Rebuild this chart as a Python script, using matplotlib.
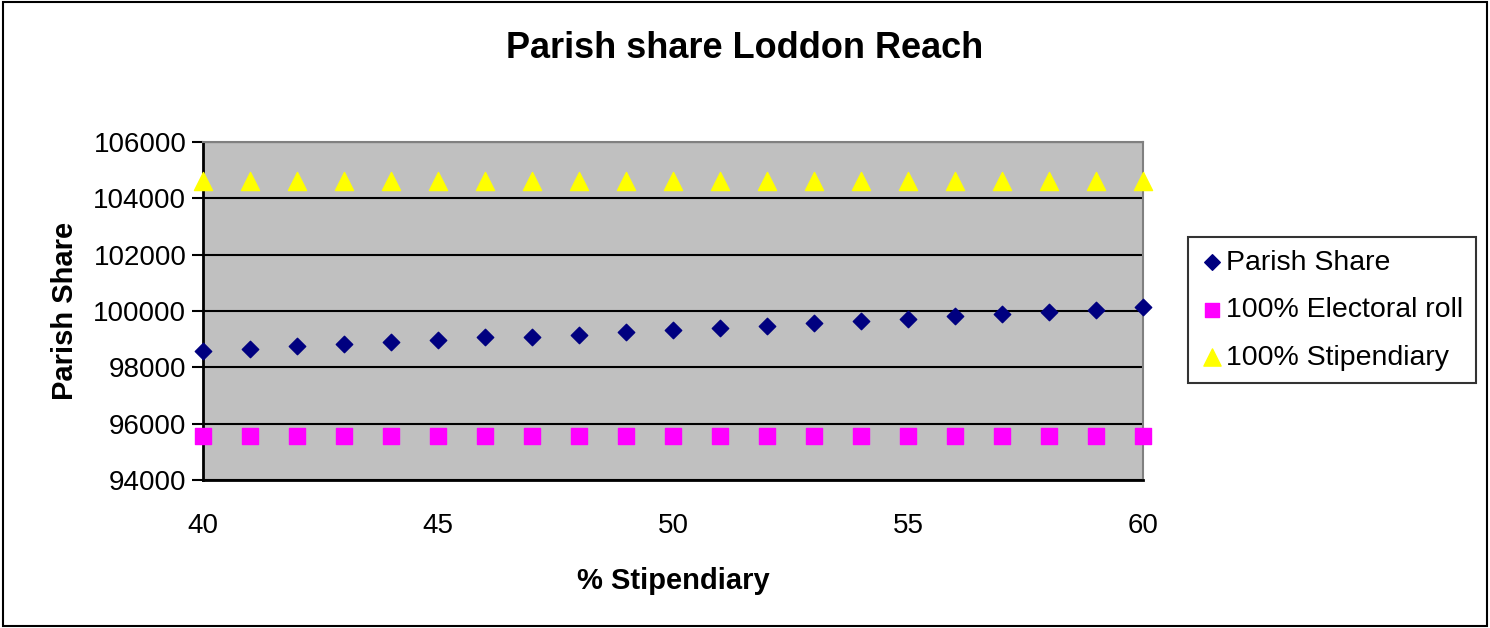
import matplotlib
matplotlib.use('Agg')
from matplotlib import pyplot as plt
from matplotlib.patches import Rectangle

plt.rcParams['font.family'] = ['Liberation Sans', 'DejaVu Sans']

stipendiary_pct = list(range(40, 61))
parish_share = [98580, 98650, 98745, 98840, 98910, 98980, 99075, 99080, 99160, 99245, 99315,
                99385, 99478, 99563, 99645, 99716, 99812, 99893, 99965, 100046, 100131]
electoral_roll = [95570] * 21
full_stipendiary = [104600] * 21

fig = plt.figure(figsize=(14.9, 6.28), dpi=100)
ax = fig.add_axes([203/1490, 1 - 480/628, 940/1490, 338/628])
ax.set_facecolor('#C0C0C0')

ax.scatter(stipendiary_pct, parish_share, marker='D', s=70, color='#000080', label='Parish Share', zorder=3, clip_on=False)
ax.scatter(stipendiary_pct, electoral_roll, marker='s', s=120, color='#FF00FF', label='100% Electoral roll', zorder=3, clip_on=False)
ax.scatter(stipendiary_pct, full_stipendiary, marker='^', s=170, color='#FFFF00', label='100% Stipendiary', zorder=3, clip_on=False)

ax.set_xlim(40, 60)
ax.set_ylim(94000, 106000)
ax.set_xticks([40, 45, 50, 55, 60])
ax.set_yticks(range(94000, 106001, 2000))
ax.grid(axis='y', color='black', linewidth=1.5)
ax.set_axisbelow(True)
for s in ['top', 'right']:
    ax.spines[s].set_color('#808080')
    ax.spines[s].set_linewidth(1.5)
for s in ['left', 'bottom']:
    ax.spines[s].set_color('black')
    ax.spines[s].set_linewidth(2)
ax.tick_params(axis='y', labelsize=20, length=8, width=1.5, direction='out', pad=4)
ax.tick_params(axis='x', labelsize=20, length=0, pad=24)

ax.set_xlabel('% Stipendiary', fontsize=21, fontweight='bold', labelpad=20)
ax.set_ylabel('Parish Share', fontsize=21, fontweight='bold', labelpad=10)
fig.text(745/1490, 1 - 49/628, 'Parish share Loddon Reach', fontsize=26, fontweight='bold', ha='center', va='center')

leg = ax.legend(loc='upper left', bbox_to_anchor=(1188/1490, 1 - 237/628), bbox_transform=fig.transFigure,
                fontsize=20.5, frameon=True, fancybox=False, edgecolor='black', handletextpad=0.1,
                borderpad=0.45, labelspacing=0.75, markerscale=0.95, handlelength=0.8, borderaxespad=0)
leg.get_frame().set_linewidth(1.5)

fig.patches.append(Rectangle((0.002, 0.003), 0.996, 0.994, transform=fig.transFigure,
                             fill=False, edgecolor='black', linewidth=1.5))

plt.savefig('out.png', dpi=100)
